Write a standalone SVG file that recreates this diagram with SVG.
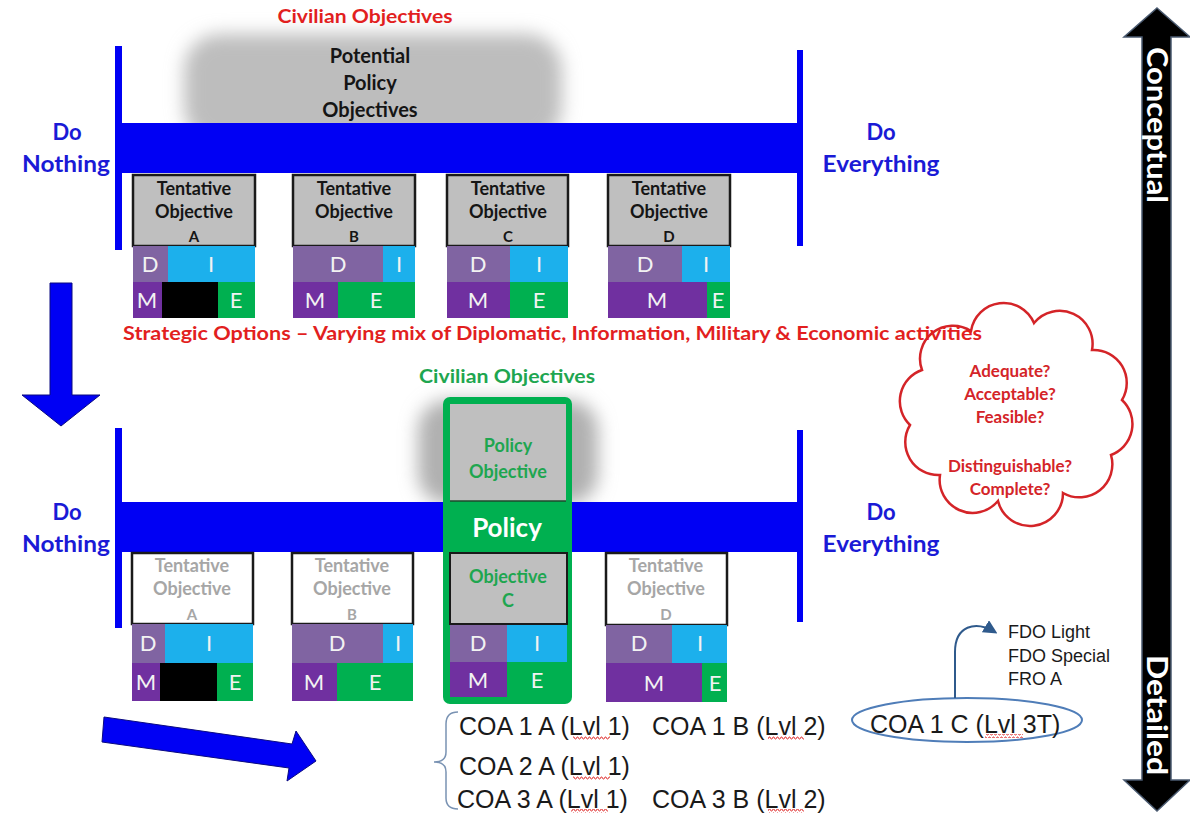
<svg xmlns="http://www.w3.org/2000/svg" width="1190" height="814" viewBox="0 0 1190 814">
  <defs>
    <style>
      .cal { font-family: Lato, "Open Sans", sans-serif; }
      .bold { font-weight: bold; }
      .arial { font-family: "Liberation Sans", Arial, sans-serif; fill: #1a1a1a; }
      .mid { text-anchor: middle; }
      .band { fill: #0000f4; }
      .bar { fill: #0000f4; }
      .side { font-family: Lato, sans-serif; font-weight: bold; font-size: 22px; fill: #1a1ad6; text-anchor: middle; }
      .red { fill: #e21f1f; }
      .hdr { fill: #bfbfbf; stroke: #1a1a1a; stroke-width: 2.5; }
      .hdrW { fill: #ffffff; stroke: #1a1a1a; stroke-width: 2.5; }
      .ht { font-family: Lato, sans-serif; font-weight: bold; font-size: 18px; text-anchor: middle; fill: #151515; }
      .hl { font-family: Lato, sans-serif; font-weight: bold; font-size: 15px; text-anchor: middle; fill: #151515; }
      .htg { font-family: Lato, sans-serif; font-weight: bold; font-size: 18px; text-anchor: middle; fill: #a6a6a6; }
      .hlg { font-family: Lato, sans-serif; font-weight: bold; font-size: 15px; text-anchor: middle; fill: #a6a6a6; }
      .d { fill: #8064a2; }
      .i { fill: #1cb0ec; }
      .m { fill: #7030a0; }
      .e { fill: #00b050; }
      .k { fill: #000000; }
      .dl { font-family: Lato, sans-serif; font-size: 22px; fill: #f2f2f2; text-anchor: middle; }
      .grn { fill: #1ea650; font-family: Lato, sans-serif; font-weight: bold; text-anchor: middle; }
      .cloudt { font-family: Lato, sans-serif; font-weight: bold; font-size: 17px; fill: #d42428; text-anchor: middle; }
      .coa { font-size: 25px; }
      .fdo { font-size: 18px; }
      .vert { font-family: Lato, sans-serif; font-weight: bold; font-size: 29px; fill: #ffffff; text-anchor: middle; }
    </style>
    <filter id="soft" x="-30%" y="-30%" width="160%" height="160%">
      <feGaussianBlur stdDeviation="9"/>
    </filter>
    <pattern id="squig" width="4" height="4" patternUnits="userSpaceOnUse">
      <polyline points="0,3 1,1 2,1 3,3 4,3" fill="none" stroke="#e03030" stroke-width="0.9"/>
    </pattern>
    <marker id="tip" viewBox="0 0 10 10" refX="8" refY="5" markerWidth="7" markerHeight="7" orient="auto">
      <path d="M0,0 L10,5 L0,10 z" fill="#2f5a8c"/>
    </marker>
  </defs>

  <!-- ===== Upper spectrum ===== -->
  <g id="upper-spectrum">
    <rect x="184" y="34" width="378" height="110" rx="36" fill="#bdbdbd" filter="url(#soft)"/>
    <rect class="band" x="120" y="123" width="681" height="50"/>
    <rect class="bar" x="115" y="46" width="7" height="204"/>
    <rect class="bar" x="797" y="50" width="6" height="196"/>
    <text class="cal bold red mid" x="365" y="23" font-size="18" textLength="175" lengthAdjust="spacingAndGlyphs">Civilian Objectives</text>
    <text class="cal bold mid" x="370" y="63" font-size="20" fill="#151515">Potential</text>
    <text class="cal bold mid" x="370" y="90" font-size="20" fill="#151515">Policy</text>
    <text class="cal bold mid" x="370" y="117" font-size="20" fill="#151515">Objectives</text>
    <text class="side" x="67" y="140">Do</text>
    <text class="side" x="66" y="172" textLength="88" lengthAdjust="spacingAndGlyphs">Nothing</text>
    <text class="side" x="881" y="140">Do</text>
    <text class="side" x="881" y="172" textLength="117" lengthAdjust="spacingAndGlyphs">Everything</text>
  </g>

  <!-- Tentative objectives, upper row -->
  <g id="upper-A">
    <rect class="hdr" x="133" y="175" width="122" height="71"/>
    <text class="ht" x="194" y="195">Tentative</text>
    <text class="ht" x="194" y="218">Objective</text>
    <text class="hl" x="194" y="242">A</text>
    <rect class="d" x="133" y="246" width="35" height="36"/>
    <rect class="i" x="168" y="246" width="87" height="36"/>
    <rect class="m" x="133" y="282" width="29" height="36"/>
    <rect class="k" x="162" y="282" width="56" height="36"/>
    <rect class="e" x="218" y="282" width="37" height="36"/>
    <text class="dl" x="150" y="272">D</text>
    <text class="dl" x="211" y="272">I</text>
    <text class="dl" x="147" y="308">M</text>
    <text class="dl" x="236" y="308">E</text>
  </g>
  <g id="upper-B">
    <rect class="hdr" x="293" y="175" width="122" height="71"/>
    <text class="ht" x="354" y="195">Tentative</text>
    <text class="ht" x="354" y="218">Objective</text>
    <text class="hl" x="354" y="242">B</text>
    <rect class="d" x="293" y="246" width="90" height="36"/>
    <rect class="i" x="383" y="246" width="32" height="36"/>
    <rect class="m" x="293" y="282" width="45" height="36"/>
    <rect class="e" x="338" y="282" width="77" height="36"/>
    <text class="dl" x="338" y="272">D</text>
    <text class="dl" x="399" y="272">I</text>
    <text class="dl" x="315" y="308">M</text>
    <text class="dl" x="376" y="308">E</text>
  </g>
  <g id="upper-C">
    <rect class="hdr" x="447" y="175" width="121" height="71"/>
    <text class="ht" x="508" y="195">Tentative</text>
    <text class="ht" x="508" y="218">Objective</text>
    <text class="hl" x="508" y="242">C</text>
    <rect class="d" x="447" y="246" width="63" height="36"/>
    <rect class="i" x="510" y="246" width="58" height="36"/>
    <rect class="m" x="447" y="282" width="63" height="36"/>
    <rect class="e" x="510" y="282" width="58" height="36"/>
    <text class="dl" x="478" y="272">D</text>
    <text class="dl" x="539" y="272">I</text>
    <text class="dl" x="478" y="308">M</text>
    <text class="dl" x="539" y="308">E</text>
  </g>
  <g id="upper-D">
    <rect class="hdr" x="608" y="175" width="122" height="71"/>
    <text class="ht" x="669" y="195">Tentative</text>
    <text class="ht" x="669" y="218">Objective</text>
    <text class="hl" x="669" y="242">D</text>
    <rect class="d" x="608" y="246" width="74" height="36"/>
    <rect class="i" x="682" y="246" width="48" height="36"/>
    <rect class="m" x="608" y="282" width="99" height="36"/>
    <rect class="e" x="707" y="282" width="23" height="36"/>
    <text class="dl" x="645" y="272">D</text>
    <text class="dl" x="706" y="272">I</text>
    <text class="dl" x="657" y="308">M</text>
    <text class="dl" x="718" y="308">E</text>
  </g>

  <!-- Assessment criteria cloud (outline only, sits under the options caption) -->
  <g id="criteria-cloud">
    <path d="M971,331 A33,33 0 0 1 1034,323 A33,33 0 0 1 1092,350 A33,33 0 0 1 1122,400 A33,33 0 0 1 1111,455 A33,33 0 0 1 1063,493 A33,33 0 0 1 998,501 A33,33 0 0 1 940,475 A33,33 0 0 1 910,425 A33,33 0 0 1 922,370 A33,33 0 0 1 971,331 Z" fill="none" stroke="#d42428" stroke-width="2.5"/>
    <text class="cloudt" x="1010" y="377">Adequate?</text>
    <text class="cloudt" x="1010" y="400">Acceptable?</text>
    <text class="cloudt" x="1010" y="423">Feasible?</text>
    <text class="cloudt" x="1010" y="472">Distinguishable?</text>
    <text class="cloudt" x="1010" y="495">Complete?</text>
  </g>

  <g id="strategic-options">
    <text class="cal bold red" x="123" y="340" font-size="18" textLength="859" lengthAdjust="spacingAndGlyphs">Strategic Options – Varying mix of Diplomatic, Information, Military &amp; Economic activities</text>
  </g>

  <!-- ===== Lower spectrum ===== -->
  <g id="lower-spectrum">
    <rect x="418" y="400" width="180" height="104" rx="30" fill="#b0b0b0" filter="url(#soft)"/>
    <rect class="band" x="120" y="502" width="681" height="50"/>
    <rect class="bar" x="115" y="428" width="7" height="200"/>
    <rect class="bar" x="797" y="430" width="6" height="192"/>
    <text class="side" x="67" y="520">Do</text>
    <text class="side" x="66" y="552" textLength="88" lengthAdjust="spacingAndGlyphs">Nothing</text>
    <text class="side" x="881" y="520">Do</text>
    <text class="side" x="881" y="552" textLength="117" lengthAdjust="spacingAndGlyphs">Everything</text>
    <text class="grn" x="507" y="383" font-size="18" textLength="176" lengthAdjust="spacingAndGlyphs">Civilian Objectives</text>
  </g>

  <g id="lower-A">
    <rect class="hdrW" x="132" y="553" width="121" height="71"/>
    <text class="htg" x="192" y="572">Tentative</text>
    <text class="htg" x="192" y="595">Objective</text>
    <text class="hlg" x="192" y="620">A</text>
    <rect class="d" x="132" y="624" width="33" height="39"/>
    <rect class="i" x="165" y="624" width="88" height="39"/>
    <rect class="m" x="132" y="663" width="28" height="38"/>
    <rect class="k" x="160" y="663" width="57" height="38"/>
    <rect class="e" x="217" y="663" width="36" height="38"/>
    <text class="dl" x="148" y="651">D</text>
    <text class="dl" x="209" y="651">I</text>
    <text class="dl" x="146" y="690">M</text>
    <text class="dl" x="235" y="690">E</text>
  </g>
  <g id="lower-B">
    <rect class="hdrW" x="292" y="553" width="121" height="71"/>
    <text class="htg" x="352" y="572">Tentative</text>
    <text class="htg" x="352" y="595">Objective</text>
    <text class="hlg" x="352" y="620">B</text>
    <rect class="d" x="292" y="624" width="91" height="39"/>
    <rect class="i" x="383" y="624" width="30" height="39"/>
    <rect class="m" x="292" y="663" width="45" height="38"/>
    <rect class="e" x="337" y="663" width="76" height="38"/>
    <text class="dl" x="337" y="651">D</text>
    <text class="dl" x="398" y="651">I</text>
    <text class="dl" x="314" y="690">M</text>
    <text class="dl" x="375" y="690">E</text>
  </g>
  <g id="lower-C-policy">
    <rect x="443" y="397" width="129" height="307" rx="7" fill="#00b050"/>
    <rect x="450" y="404" width="116" height="97" fill="#bfbfbf"/>
    <line x1="450" y1="501" x2="566" y2="501" stroke="#1d4a2c" stroke-width="1.5"/>
    <text class="grn" x="508" y="452" font-size="18">Policy</text>
    <text class="grn" x="508" y="478" font-size="18">Objective</text>
    <text class="cal bold mid" x="507" y="537" font-size="26" fill="#ffffff">Policy</text>
    <rect x="450" y="553" width="117" height="71" fill="#bfbfbf" stroke="#1a1a1a" stroke-width="2"/>
    <text class="grn" x="508" y="583" font-size="18">Objective</text>
    <text class="grn" x="508" y="607" font-size="18">C</text>
    <rect class="d" x="450" y="625" width="57" height="37"/>
    <rect class="i" x="507" y="625" width="60" height="37"/>
    <rect class="m" x="450" y="662" width="57" height="35"/>
    <rect class="e" x="507" y="662" width="60" height="35"/>
    <text class="dl" x="478" y="651">D</text>
    <text class="dl" x="537" y="651">I</text>
    <text class="dl" x="478" y="688">M</text>
    <text class="dl" x="537" y="688">E</text>
  </g>
  <g id="lower-D">
    <rect class="hdrW" x="606" y="553" width="121" height="72"/>
    <text class="htg" x="666" y="572">Tentative</text>
    <text class="htg" x="666" y="595">Objective</text>
    <text class="hlg" x="666" y="620">D</text>
    <rect class="d" x="606" y="625" width="66" height="38"/>
    <rect class="i" x="672" y="625" width="55" height="38"/>
    <rect class="m" x="606" y="663" width="96" height="39"/>
    <rect class="e" x="702" y="663" width="25" height="39"/>
    <text class="dl" x="639" y="651">D</text>
    <text class="dl" x="700" y="651">I</text>
    <text class="dl" x="654" y="691">M</text>
    <text class="dl" x="715" y="691">E</text>
  </g>

  <!-- Courses of action -->
  <g id="coa-list">
    <path d="M458,712 Q446,712 446,724 L446,752 Q446,762 434,762 Q446,762 446,772 L446,798 Q446,809 458,809" fill="none" stroke="#7a93b3" stroke-width="1.5"/>
    <text class="arial coa" x="459" y="735">COA 1 A (Lvl 1)</text>
    <text class="arial coa" x="652" y="735">COA 1 B (Lvl 2)</text>
    <text class="arial coa" x="459" y="775">COA 2 A (Lvl 1)</text>
    <text class="arial coa" x="457" y="808">COA 3 A (Lvl 1)</text>
    <text class="arial coa" x="652" y="808">COA 3 B (Lvl 2)</text>
    <rect x="573" y="736" width="37" height="4" fill="url(#squig)"/>
    <rect x="768" y="736" width="36" height="4" fill="url(#squig)"/>
    <rect x="573" y="776" width="37" height="4" fill="url(#squig)"/>
    <rect x="571" y="809" width="37" height="4" fill="url(#squig)"/>
    <rect x="768" y="809" width="36" height="4" fill="url(#squig)"/>
  </g>
  <g id="coa-1c">
    <ellipse cx="967" cy="720" rx="115" ry="22" fill="none" stroke="#4f7db8" stroke-width="2"/>
    <text class="arial coa" x="870" y="733">COA 1 C (Lvl 3T)</text>
    <rect x="985" y="734" width="38" height="4" fill="url(#squig)"/>
  </g>
  <g id="force-options">
    <text class="arial fdo" x="1008" y="638">FDO Light</text>
    <text class="arial fdo" x="1008" y="662">FDO Special</text>
    <text class="arial fdo" x="1008" y="685">FRO A</text>
  </g>

  <!-- Connectors -->
  <g id="connectors">
    <path d="M955,698 L955,652 C955,626 975,620 995,632" fill="none" stroke="#2f5a8c" stroke-width="2" marker-end="url(#tip)"/>
    <polygon points="50,283 72,283 72,395 100,395 61,426 22,395 50,395" fill="#0000f4" stroke="#0a0a80" stroke-width="1"/>
    <polygon points="104,717 292,744 296,731 316,761 287,781 289,768 102,742" fill="#0000f4" stroke="#0a0a80" stroke-width="1"/>
  </g>

  <!-- Conceptual / Detailed axis -->
  <g id="detail-axis">
    <polygon points="1157,8 1190,37 1171,37 1171,780 1190,780 1157,811 1124,780 1142,780 1142,37 1124,37" fill="#000000" stroke="#4a5a70" stroke-width="1.5"/>
    <text class="vert" x="1157" y="135" transform="rotate(90 1157 125)" textLength="156" lengthAdjust="spacingAndGlyphs">Conceptual</text>
    <text class="vert" x="1157" y="725" transform="rotate(90 1157 715)" textLength="120" lengthAdjust="spacingAndGlyphs">Detailed</text>
  </g>
</svg>
